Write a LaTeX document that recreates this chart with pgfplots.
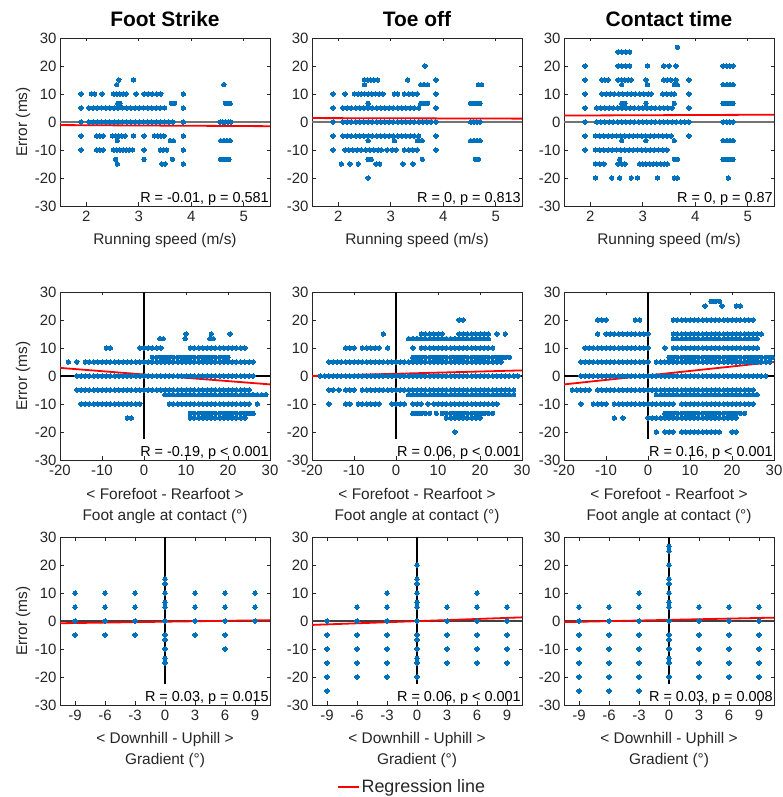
\documentclass[border=0pt]{standalone}
\usepackage{fontspec}
\setmainfont{Liberation Sans}
\usepackage{pgfplots}
\pgfplotsset{compat=1.18}
\definecolor{mblue}{RGB}{0,114,189}
\definecolor{axgray}{RGB}{38,38,38}
\definecolor{txtgray}{RGB}{38,38,38}
\pgfplotsset{
  panel/.style={
    scale only axis, width=210bp, height=168bp, anchor=south west,
    ymin=-30, ymax=30, ytick={-30,-20,-10,0,10,20,30},
    axis line style={draw=axgray, line width=0.8bp},
    every tick/.style={draw=axgray, line width=0.6bp},
    major tick length=3.5bp,
    tick align=inside,
    tick label style={font=\fontsize{15}{18}\selectfont, text=txtgray},
    xticklabel style={yshift=-2bp},
    /pgf/number format/assume math mode=true,
    title style={font=\bfseries\fontsize{21}{24}\selectfont, at={(axis description cs:0.5,1.075)}, anchor=center},
    xlabel style={font=\fontsize{15.5}{21}\selectfont, text=txtgray, align=center},
    ylabel style={font=\fontsize{15.5}{21}\selectfont, text=txtgray},
  },
  row1/.style={xmin=1.5, xmax=5.5, xtick={2,3,4,5}, xlabel={Running speed (m/s)},
    xlabel style={at={(axis description cs:0.5,-0.205)}, anchor=center}},
  row2/.style={xmin=-20, xmax=30, xtick={-20,-10,0,10,20,30},
    xlabel={< Forefoot - Rearfoot >\\Foot angle at contact (°)},
    xlabel style={at={(axis description cs:0.5,-0.272)}, anchor=center}},
  row3/.style={xmin=-10.5, xmax=10.5, xtick={-9,-6,-3,0,3,6,9},
    xlabel={< Downhill - Uphill >\\Gradient (°)},
    xlabel style={at={(axis description cs:0.5,-0.266)}, anchor=center}},
  ylab/.style={ylabel={Error (ms)}, ylabel style={at={(axis description cs:-0.176,0.5)}, anchor=center}},
  dots/.style={only marks, mark=*, mark size=2.2bp, forget plot, color=mblue, mark options={draw=mblue, fill=mblue, line width=0pt}},
  reg/.style={red, line width=1.8bp, no marks, forget plot},
  z1/.style={black!55, line width=2.6bp, no marks, forget plot},
  z2/.style={black, line width=1.2bp, no marks, forget plot},
  z3/.style={black!75, line width=2bp, no marks, forget plot},
}
\newcommand{\ann}[1]{\node[anchor=base east, font=\fontsize{14.5}{17}\selectfont, text=black, inner sep=0pt] at (rel axis cs:0.995,0.02) {#1};}
\begin{document}
\begin{tikzpicture}[x=1bp,y=1bp]
\useasboundingbox (0,0) rectangle (783,797);
% ---------------- Row 1 ----------------
\begin{axis}[panel,row1,ylab,at={(60bp,591bp)},title={Foot Strike}]
\addplot[dots] coordinates {(2.62,15)(2.9,15)(2.58,13.33)(4.62,13.33)
(1.9,10)(2.1,10)(2.16,10)(2.3,10)(2.52,10)(2.58,10)(2.64,10)(2.7,10)(2.76,10)(2.95,10)(3.1,10)(3.18,10)(3.26,10)(3.34,10)(3.42,10)(3.85,10)
(2.6,6.67)(2.64,6.67)(3.62,6.67)(3.68,6.67)(4.65,6.67)(4.7,6.67)(4.74,6.67)
(1.9,5)(2.05,5)(2.13,5)(2.21,5)(2.29,5)(2.37,5)(2.45,5)(2.53,5)(2.61,5)(2.69,5)(2.77,5)(2.85,5)(2.93,5)(3.01,5)(3.09,5)(3.17,5)(3.25,5)(3.33,5)(3.41,5)(3.49,5)(3.85,5)
(1.9,0)(2.05,0)(2.13,0)(2.21,0)(2.29,0)(2.37,0)(2.45,0)(2.53,0)(2.61,0)(2.69,0)(2.77,0)(2.85,0)(2.93,0)(3.01,0)(3.09,0)(3.17,0)(3.25,0)(3.33,0)(3.41,0)(3.49,0)(3.57,0)(3.65,0)(3.85,0)(4.55,0)(4.6,0)(4.65,0)(4.7,0)(4.75,0)
(1.9,-5)(2.2,-5)(2.26,-5)(2.32,-5)(2.5,-5)(2.56,-5)(2.62,-5)(2.68,-5)(2.74,-5)(2.9,-5)(3.1,-5)(3.3,-5)(3.36,-5)(3.42,-5)(3.48,-5)(3.85,-5)
(2.59,-6.67)(3.6,-6.67)(3.66,-6.67)(4.56,-6.67)(4.62,-6.67)(4.68,-6.67)(4.74,-6.67)
(1.9,-10)(2.2,-10)(2.26,-10)(2.32,-10)(2.52,-10)(2.58,-10)(2.64,-10)(2.7,-10)(2.76,-10)(2.82,-10)(2.88,-10)(3.1,-10)(3.41,-10)(3.47,-10)(3.53,-10)(3.85,-10)
(2.56,-13.33)(3.1,-13.33)(3.64,-13.33)(4.56,-13.33)(4.62,-13.33)(4.68,-13.33)(4.72,-13.33)
(2.59,-15)(3.44,-15)(3.5,-15)(3.85,-15)};
\addplot[z1] coordinates {(1.5,0)(5.5,0)};
\addplot[reg] coordinates {(1.5,-1.1)(5.5,-1.5)};
\ann{R = -0.01, p = 0.581}
\end{axis}
\begin{axis}[panel,row1,at={(312bp,591bp)},title={Toe off}]
\addplot[dots] coordinates {(3.65,20)
(2.5,15)(2.56,15)(2.62,15)(2.68,15)(2.75,15)(3.32,15)(3.86,15)
(2.5,13.33)(3.57,13.33)(3.63,13.33)(3.7,13.33)(4.67,13.33)(4.73,13.33)
(1.9,10)(2.13,10)(2.31,10)(2.38,10)(2.44,10)(2.5,10)(2.57,10)(2.64,10)(2.71,10)(2.78,10)(2.85,10)(3.07,10)(3.13,10)(3.26,10)(3.34,10)(3.42,10)(3.5,10)(3.86,10)
(2.57,6.67)(3.57,6.67)(3.63,6.67)(3.7,6.67)(4.52,6.67)(4.58,6.67)(4.64,6.67)(4.7,6.67)
(1.9,5)(2.09,5)(2.17,5)(2.25,5)(2.33,5)(2.41,5)(2.49,5)(2.57,5)(2.65,5)(2.73,5)(2.81,5)(2.89,5)(2.97,5)(3.05,5)(3.13,5)(3.21,5)(3.29,5)(3.37,5)(3.45,5)(3.53,5)(3.86,5)
(1.9,0)(2.09,0)(2.17,0)(2.25,0)(2.33,0)(2.41,0)(2.49,0)(2.57,0)(2.65,0)(2.73,0)(2.81,0)(2.89,0)(2.97,0)(3.05,0)(3.13,0)(3.21,0)(3.29,0)(3.37,0)(3.45,0)(3.53,0)(3.61,0)(3.69,0)(3.77,0)(3.86,0)(4.52,0)(4.58,0)(4.64,0)(4.7,0)
(1.9,-5)(2.09,-5)(2.17,-5)(2.25,-5)(2.33,-5)(2.41,-5)(2.49,-5)(2.57,-5)(2.65,-5)(2.73,-5)(2.81,-5)(2.89,-5)(2.97,-5)(3.05,-5)(3.13,-5)(3.21,-5)(3.29,-5)(3.37,-5)(3.45,-5)(3.53,-5)(3.86,-5)
(2.57,-6.67)(3.07,-6.67)(3.51,-6.67)(3.6,-6.67)(4.52,-6.67)(4.58,-6.67)(4.64,-6.67)(4.7,-6.67)
(1.9,-10)(2.13,-10)(2.2,-10)(2.28,-10)(2.36,-10)(2.44,-10)(2.52,-10)(2.6,-10)(2.68,-10)(2.76,-10)(2.82,-10)(2.93,-10)(3.03,-10)(3.1,-10)(3.26,-10)(3.34,-10)(3.42,-10)(3.5,-10)(3.86,-10)
(2.57,-13.33)(2.63,-13.33)(3.6,-13.33)(4.61,-13.33)(4.67,-13.33)
(2.06,-15)(2.22,-15)(2.38,-15)(2.72,-15)(2.79,-15)(3.23,-15)(3.42,-15)
(2.57,-20)};
\addplot[z1] coordinates {(1.5,0)(5.5,0)};
\addplot[reg] coordinates {(1.5,1.4)(5.5,1.2)};
\ann{R = 0, p = 0.813}
\end{axis}
\begin{axis}[panel,row1,at={(564bp,591bp)},title={Contact time}]
\addplot[dots] coordinates {(3.66,26.67)
(2.53,25)(2.6,25)(2.68,25)(2.75,25)
(1.9,20)(2.53,20)(2.6,20)(2.68,20)(2.75,20)(3.09,20)(3.4,20)(3.5,20)(3.63,20)(4.53,20)(4.6,20)(4.66,20)(4.72,20)
(1.9,15)(2.22,15)(2.28,15)(2.34,15)(2.53,15)(2.6,15)(2.66,15)(2.72,15)(2.78,15)(3.06,15)(3.4,15)(3.47,15)(3.53,15)(3.63,15)(3.88,15)
(2.6,13.33)(3.09,13.33)(3.6,13.33)(3.66,13.33)(4.53,13.33)(4.6,13.33)(4.66,13.33)(4.72,13.33)
(1.9,10)(2.22,10)(2.3,10)(2.38,10)(2.46,10)(2.54,10)(2.62,10)(2.7,10)(2.78,10)(2.86,10)(2.94,10)(3.02,10)(3.1,10)(3.16,10)(3.38,10)(3.46,10)(3.54,10)(3.6,10)(3.88,10)
(2.6,6.67)(2.66,6.67)(3.06,6.67)(3.6,6.67)(4.53,6.67)(4.6,6.67)(4.66,6.67)(4.72,6.67)
(1.9,5)(2.12,5)(2.2,5)(2.28,5)(2.36,5)(2.44,5)(2.52,5)(2.6,5)(2.68,5)(2.76,5)(2.84,5)(2.92,5)(3,5)(3.08,5)(3.16,5)(3.24,5)(3.32,5)(3.4,5)(3.48,5)(3.56,5)(3.88,5)
(1.9,0)(2.12,0)(2.2,0)(2.28,0)(2.36,0)(2.44,0)(2.52,0)(2.6,0)(2.68,0)(2.76,0)(2.84,0)(2.92,0)(3,0)(3.08,0)(3.16,0)(3.24,0)(3.32,0)(3.4,0)(3.48,0)(3.56,0)(3.64,0)(3.72,0)(3.8,0)(3.88,0)(4.53,0)(4.6,0)(4.66,0)(4.72,0)
(1.9,-5)(2.1,-5)(2.18,-5)(2.26,-5)(2.34,-5)(2.42,-5)(2.5,-5)(2.58,-5)(2.66,-5)(2.74,-5)(2.82,-5)(2.9,-5)(2.98,-5)(3.06,-5)(3.14,-5)(3.22,-5)(3.3,-5)(3.38,-5)(3.46,-5)(3.54,-5)(3.88,-5)
(2.6,-6.67)(3.06,-6.67)(3.6,-6.67)(4.53,-6.67)(4.6,-6.67)(4.66,-6.67)(4.72,-6.67)
(1.9,-10)(2.1,-10)(2.18,-10)(2.26,-10)(2.34,-10)(2.42,-10)(2.5,-10)(2.58,-10)(2.66,-10)(2.74,-10)(2.82,-10)(2.9,-10)(2.98,-10)(3.06,-10)(3.14,-10)(3.22,-10)(3.3,-10)(3.38,-10)(3.46,-10)
(2.56,-13.33)(3.6,-13.33)(3.66,-13.33)(4.53,-13.33)(4.6,-13.33)(4.66,-13.33)(4.72,-13.33)
(2.1,-15)(2.18,-15)(2.26,-15)(2.53,-15)(2.6,-15)(2.66,-15)(2.94,-15)(3,-15)(3.06,-15)(3.13,-15)(3.2,-15)(3.27,-15)(3.34,-15)(3.41,-15)(3.47,-15)
(2.1,-20)(2.41,-20)(2.56,-20)(2.78,-20)(2.9,-20)(3.28,-20)(3.6,-20)(3.66,-20)(4.63,-20)};
\addplot[z1] coordinates {(1.5,0)(5.5,0)};
\addplot[reg] coordinates {(1.5,2.3)(5.5,2.6)};
\ann{R = 0, p = 0.87}
\end{axis}
% ---------------- Row 2 ----------------
\begin{axis}[panel,row2,ylab,at={(60bp,337bp)}]
\addplot[dots] coordinates {(10,15)(16,15)(20.5,15)
(3.8,13.33)(4.6,13.33)(9.8,13.33)(15.7,13.33)(16.5,13.33)
(-9,10)(-8,10)(-1,10)(0,10)(1,10)(2,10)(3,10)(4,10)(11,10)(12,10)(13,10)(14,10)(15,10)(16,10)(17,10)(18,10)(19,10)(20,10)(21,10)(22,10)(23,10)(24,10)
(2,6.67)(3,6.67)(4,6.67)(5,6.67)(6,6.67)(7,6.67)(8,6.67)(9,6.67)(10,6.67)(11,6.67)(12,6.67)(13,6.67)(14,6.67)(15,6.67)(16,6.67)(17,6.67)(18,6.67)(19,6.67)(20,6.67)
(-18,5)(-16,5)(-14,5)(-13,5)(-12,5)(-11,5)(-10,5)(-9,5)(-8,5)(-7,5)(-6,5)(-5,5)(-4,5)(-3,5)(-2,5)(-1,5)(0,5)(1,5)(2,5)(3,5)(4,5)(5,5)(6,5)(7,5)(8,5)(9,5)(10,5)(11,5)(12,5)(13,5)(14,5)(15,5)(16,5)(17,5)(18,5)(19,5)(20,5)(21,5)(22,5)(23,5)(24,5)(25,5)(26,5)
(-16,0)(-15,0)(-14,0)(-13,0)(-12,0)(-11,0)(-10,0)(-9,0)(-8,0)(-7,0)(-6,0)(-5,0)(-4,0)(-3,0)(-2,0)(-1,0)(0,0)(1,0)(2,0)(3,0)(4,0)(5,0)(6,0)(7,0)(8,0)(9,0)(10,0)(11,0)(12,0)(13,0)(14,0)(15,0)(16,0)(17,0)(18,0)(19,0)(20,0)(21,0)(22,0)(23,0)(24,0)(25,0)(26,0)
(-16,-5)(-15,-5)(-14,-5)(-13,-5)(-12,-5)(-11,-5)(-10,-5)(-9,-5)(-8,-5)(-7,-5)(-6,-5)(-5,-5)(-4,-5)(-3,-5)(-2,-5)(-1,-5)(0,-5)(1,-5)(2,-5)(3,-5)(4,-5)(5,-5)(6,-5)(7,-5)(8,-5)(9,-5)(10,-5)(11,-5)(12,-5)(13,-5)(14,-5)(15,-5)(16,-5)(17,-5)(18,-5)(19,-5)(20,-5)(21,-5)(22,-5)(23,-5)(24,-5)(25,-5)
(5,-6.67)(6,-6.67)(7,-6.67)(8,-6.67)(9,-6.67)(10,-6.67)(11,-6.67)(12,-6.67)(13,-6.67)(14,-6.67)(15,-6.67)(16,-6.67)(17,-6.67)(18,-6.67)(19,-6.67)(20,-6.67)(21,-6.67)(22,-6.67)(23,-6.67)(24,-6.67)(25,-6.67)(26,-6.67)(27,-6.67)(28,-6.67)(29,-6.67)
(-15,-10)(-14,-10)(-13,-10)(-12,-10)(-11,-10)(-10,-10)(-9,-10)(-8,-10)(-7,-10)(-6,-10)(-5,-10)(-4,-10)(-3,-10)(-2,-10)(-1,-10)(6,-10)(7,-10)(8,-10)(9,-10)(10,-10)(11,-10)(12,-10)(13,-10)(14,-10)(15,-10)(16,-10)(17,-10)(18,-10)(19,-10)(20,-10)(21,-10)(22,-10)(23,-10)(24,-10)(25,-10)(27,-10)
(11,-13.33)(12,-13.33)(13,-13.33)(14,-13.33)(15,-13.33)(16,-13.33)(17,-13.33)(18,-13.33)(19,-13.33)(20,-13.33)(21,-13.33)(22,-13.33)(23,-13.33)(24,-13.33)(25,-13.33)(26,-13.33)
(-4,-15)(-3,-15)(11,-15)(12,-15)(13,-15)(14,-15)(15,-15)(16,-15)(17,-15)(18,-15)(19,-15)(20,-15)(21,-15)(22,-15)(23,-15)(24,-15)};
\addplot[z2] coordinates {(-20,0)(30,0)};
\addplot[z2] coordinates {(0,-22.5)(0,30)};
\addplot[reg] coordinates {(-20,2.9)(30,-3.0)};
\ann{R = -0.19, p < 0.001}
\end{axis}
\begin{axis}[panel,row2,at={(312bp,337bp)}]
\addplot[dots] coordinates {(15,20)(16,20)
(-3,15)(6,15)(7,15)(8,15)(9,15)(10,15)(11,15)(15,15)(16,15)(17,15)(18,15)(19,15)(20,15)(21,15)(22,15)(24,15)(26,15)
(3,13.33)(4,13.33)(5,13.33)(6,13.33)(7,13.33)(8,13.33)(9,13.33)(10,13.33)(11,13.33)(12,13.33)(13,13.33)(14,13.33)(15,13.33)(16,13.33)(17,13.33)(18,13.33)(19,13.33)(20,13.33)(21,13.33)(22,13.33)
(-12,10)(-11,10)(-10,10)(-8,10)(-7,10)(-6,10)(-5,10)(-4,10)(-2,10)(4,10)(6,10)(7,10)(8,10)(9,10)(10,10)(11,10)(12,10)(13,10)(14,10)(15,10)(16,10)(17,10)(18,10)(19,10)(20,10)(21,10)(22,10)(23,10)
(4,6.67)(5,6.67)(6,6.67)(7,6.67)(8,6.67)(9,6.67)(10,6.67)(11,6.67)(12,6.67)(13,6.67)(14,6.67)(15,6.67)(16,6.67)(17,6.67)(18,6.67)(19,6.67)(20,6.67)(21,6.67)(22,6.67)(23,6.67)(24,6.67)(25,6.67)(26,6.67)(27,6.67)
(-16,5)(-15,5)(-14,5)(-13,5)(-12,5)(-11,5)(-10,5)(-9,5)(-8,5)(-7,5)(-6,5)(-5,5)(-4,5)(-3,5)(-2,5)(-1,5)(0,5)(1,5)(2,5)(3,5)(4,5)(5,5)(6,5)(7,5)(8,5)(9,5)(10,5)(11,5)(12,5)(13,5)(14,5)(15,5)(16,5)(17,5)(18,5)(19,5)(20,5)(21,5)(22,5)(23,5)(24,5)(25,5)
(-18,0)(-17,0)(-16,0)(-15,0)(-14,0)(-13,0)(-12,0)(-11,0)(-10,0)(-9,0)(-8,0)(-7,0)(-6,0)(-5,0)(-4,0)(-3,0)(-2,0)(-1,0)(0,0)(1,0)(2,0)(3,0)(4,0)(5,0)(6,0)(7,0)(8,0)(9,0)(10,0)(11,0)(12,0)(13,0)(14,0)(15,0)(16,0)(17,0)(18,0)(19,0)(20,0)(21,0)(22,0)(23,0)(24,0)(25,0)(26,0)(27,0)(28,0)(29,0)
(-16,-5)(-15,-5)(-13.6,-5)(-12,-5)(-11,-5)(-10,-5)(-8,-5)(-7,-5)(-6,-5)(-5,-5)(-4,-5)(-3,-5)(-2,-5)(-1,-5)(0,-5)(1,-5)(2,-5)(3,-5)(4,-5)(5,-5)(6,-5)(7,-5)(8,-5)(9,-5)(10,-5)(11,-5)(12,-5)(13,-5)(14,-5)(15,-5)(16,-5)(17,-5)(18,-5)(19,-5)(20,-5)(21,-5)(22,-5)(23,-5)(24,-5)(25,-5)(26,-5)(27,-5)(28,-5)
(3,-6.67)(4,-6.67)(5,-6.67)(6,-6.67)(7,-6.67)(8,-6.67)(9,-6.67)(10,-6.67)(11,-6.67)(12,-6.67)(13,-6.67)(14,-6.67)(15,-6.67)(16,-6.67)(17,-6.67)(18,-6.67)(19,-6.67)(20,-6.67)(21,-6.67)(22,-6.67)(23,-6.67)(24,-6.67)(25,-6.67)(26,-6.67)(27,-6.67)(28,-6.67)
(-16,-10)(-12,-10)(-11,-10)(-9,-10)(-8,-10)(-7,-10)(-6,-10)(-5,-10)(-4,-10)(-1,-10)(0,-10)(1,-10)(2,-10)(4,-10)(5,-10)(6,-10)(7.6,-10)(9,-10)(10,-10)(11,-10)(12,-10)(13,-10)(14,-10)(15,-10)(16,-10)(17,-10)(18,-10)(19,-10)(20,-10)(21,-10)(22,-10)(23,-10)(24,-10)
(4,-13.33)(5,-13.33)(6,-13.33)(7,-13.33)(8,-13.33)(9.6,-13.33)(11,-13.33)(12,-13.33)(13,-13.33)(14,-13.33)(15,-13.33)(16,-13.33)(17,-13.33)(18,-13.33)(19,-13.33)(20,-13.33)(21,-13.33)(22,-13.33)(23,-13.33)
(12,-15)(13,-15)(14,-15)(15,-15)(16,-15)(17,-15)(18,-15)(19,-15)(20,-15)
(14,-20)};
\addplot[z2] coordinates {(-20,0)(30,0)};
\addplot[z2] coordinates {(0,-22.5)(0,30)};
\addplot[reg] coordinates {(-20,0.0)(30,2.0)};
\ann{R = 0.06, p < 0.001}
\end{axis}
\begin{axis}[panel,row2,at={(564bp,337bp)}]
\addplot[dots] coordinates {(15,26.67)(16,26.67)(17,26.67)
(13.6,25)(17.6,25)(21,25)(22,25)
(-12,20)(-11,20)(-10,20)(-3,20)(-2,20)(6,20)(7,20)(8,20)(9,20)(10,20)(11,20)(12,20)(13,20)(14,20)(15,20)(16,20)(17,20)(18,20)(19,20)(20,20)(21,20)(22,20)(23,20)(24,20)(25,20)
(-12,15)(-10,15)(-9,15)(-8,15)(-7,15)(-6,15)(-5,15)(-4,15)(-3,15)(-2,15)(-1,15)(0,15)(6,15)(7,15)(8,15)(9,15)(10,15)(11,15)(12,15)(13,15)(14,15)(15,15)(16,15)(17,15)(18,15)(19,15)(20,15)(21,15)(22,15)(23,15)(24,15)(25,15)(26,15)(27,15)
(6,13.33)(7,13.33)(8,13.33)(9,13.33)(10,13.33)(11,13.33)(12,13.33)(13,13.33)(14,13.33)(15,13.33)(16,13.33)(17,13.33)(18,13.33)(19,13.33)(20,13.33)(21,13.33)(22,13.33)(23,13.33)(24,13.33)(25,13.33)(26,13.33)
(-15,10)(-14,10)(-13,10)(-12,10)(-11,10)(-10,10)(-9,10)(-8,10)(-7,10)(-6,10)(-5,10)(-4,10)(-3,10)(-2,10)(-1,10)(0,10)(4,10)(6,10)(7,10)(8,10)(9,10)(10,10)(11,10)(12,10)(13,10)(14,10)(15,10)(16,10)(17,10)(18,10)(19,10)(20,10)(21,10)(22,10)(23,10)(24,10)(25,10)(26,10)
(5,6.67)(6,6.67)(7,6.67)(8,6.67)(9,6.67)(10,6.67)(11,6.67)(12,6.67)(13,6.67)(14,6.67)(15,6.67)(16,6.67)(17,6.67)(18,6.67)(19,6.67)(20,6.67)(21,6.67)(22,6.67)(23,6.67)(24,6.67)(25,6.67)(26,6.67)(27,6.67)(28,6.67)(29,6.67)(29.6,6.67)
(-16,5)(-15,5)(-14,5)(-13,5)(-12,5)(-11,5)(-10,5)(-9,5)(-8,5)(-7,5)(-6,5)(-5,5)(-4,5)(-3,5)(-2,5)(-1,5)(0,5)(2,5)(3,5)(4,5)(5,5)(6,5)(7,5)(8,5)(9,5)(10,5)(11,5)(12,5)(13,5)(14,5)(15,5)(16,5)(17,5)(18,5)(19,5)(20,5)(21,5)(22,5)(23,5)(24,5)(25,5)(26,5)(27,5)(28,5)(29,5)
(-16,0)(-15,0)(-14,0)(-13,0)(-12,0)(-11,0)(-10,0)(-9,0)(-8,0)(-7,0)(-6,0)(-5,0)(-4,0)(-3,0)(-2,0)(-1,0)(0,0)(1,0)(2,0)(3,0)(4,0)(5,0)(6,0)(7,0)(8,0)(9,0)(10,0)(11,0)(12,0)(13,0)(14,0)(15,0)(16,0)(17,0)(18,0)(19,0)(20,0)(21,0)(22,0)(23,0)(24,0)(25,0)(26,0)(27,0)(28,0)
(-18,-5)(-17,-5)(-16,-5)(-15,-5)(-14,-5)(-12,-5)(-11,-5)(-10,-5)(-9,-5)(-8,-5)(-7,-5)(-6,-5)(-5,-5)(-4,-5)(-3,-5)(-2,-5)(-1,-5)(0,-5)(1,-5)(2,-5)(3,-5)(4,-5)(5,-5)(6,-5)(7,-5)(8,-5)(9,-5)(10,-5)(11,-5)(12,-5)(13,-5)(14,-5)(15,-5)(16,-5)(17,-5)(18,-5)(19,-5)(20,-5)(21,-5)(22,-5)(23,-5)(24,-5)(25,-5)
(2,-6.67)(3,-6.67)(4,-6.67)(5,-6.67)(6,-6.67)(7,-6.67)(8,-6.67)(9,-6.67)(10,-6.67)(11,-6.67)(12,-6.67)(13,-6.67)(14,-6.67)(15,-6.67)(16,-6.67)(17,-6.67)(18,-6.67)(19,-6.67)(20,-6.67)(21,-6.67)(22,-6.67)(23,-6.67)(24,-6.67)(25,-6.67)(26,-6.67)
(-16,-10)(-13,-10)(-12,-10)(-11,-10)(-10,-10)(-8,-10)(-7,-10)(-6,-10)(-5,-10)(-4,-10)(-3,-10)(-2,-10)(-1,-10)(0,-10)(1,-10)(2,-10)(3,-10)(4,-10)(5,-10)(6,-10)(8,-10)(9,-10)(10,-10)(11,-10)(12,-10)(13,-10)(14,-10)(15,-10)(16,-10)(17,-10)(18,-10)(19,-10)(20,-10)(21,-10)(22,-10)(23,-10)(24,-10)(25,-10)
(4,-13.33)(5,-13.33)(6,-13.33)(7,-13.33)(8,-13.33)(9,-13.33)(10,-13.33)(11,-13.33)(12,-13.33)(13,-13.33)(14,-13.33)(15,-13.33)(16,-13.33)(17,-13.33)(18,-13.33)(19,-13.33)(20,-13.33)(21,-13.33)(22,-13.33)(23,-13.33)
(-8,-15)(-6,-15)(0,-15)(1,-15)(2,-15)(3,-15)(4,-15)(5,-15)(6,-15)(7,-15)(8,-15)(9,-15)(10,-15)(11,-15)(12,-15)(13,-15)(14,-15)(15,-15)(16,-15)(17,-15)(18,-15)(19,-15)(20,-15)(21,-15)
(2,-20)(4,-20)(5,-20)(6,-20)(8,-20)(9,-20)(10,-20)(11,-20)(12,-20)(13,-20)(14,-20)(15,-20)(16,-20)(17,-20)(20,-20)(21,-20)};
\addplot[z2] coordinates {(-20,0)(30,0)};
\addplot[z2] coordinates {(0,-22.5)(0,30)};
\addplot[reg] coordinates {(-20,-3.0)(30,5.0)};
\ann{R = 0.16, p < 0.001}
\end{axis}
% ---------------- Row 3 ----------------
\begin{axis}[panel,row3,ylab,at={(60bp,92bp)}]
\addplot[dots] coordinates {(-9,10)(-9,5)(-9,0)(-9,-5)(-6,10)(-6,5)(-6,0)(-6,-5)(-3,10)(-3,5)(-3,0)(-3,-5)
(0,15)(0,13.33)(0,10)(0,6.67)(0,5)(0,0)(0,-5)(0,-6.67)(0,-10)(0,-13.33)(0,-15)
(3,10)(3,5)(3,0)(3,-5)(6,10)(6,5)(6,0)(6,-5)(6,-10)(9,10)(9,5)(9,0)};
\addplot[z3] coordinates {(-10.5,0)(10.5,0)};
\addplot[z2] coordinates {(0,-22.5)(0,30)};
\addplot[reg] coordinates {(-10.5,-0.8)(10.5,0.3)};
\ann{R = 0.03, p = 0.015}
\end{axis}
\begin{axis}[panel,row3,at={(312bp,92bp)},
  legend style={draw=none, fill=none, at={(axis description cs:0.476,-0.488)}, anchor=center, font=\fontsize{18}{20}\selectfont, text=txtgray},
  legend image code/.code={\draw[red, line width=1.8bp] (0bp,0bp) -- (21bp,0bp);}]
\addlegendimage{red}
\addlegendentry{Regression line}
\addplot[dots] coordinates {(-9,0)(-9,-5)(-9,-10)(-9,-15)(-9,-20)(-9,-25)
(-6,5)(-6,0)(-6,-5)(-6,-10)(-6,-15)(-6,-20)
(-3,10)(-3,5)(-3,0)(-3,-5)(-3,-10)(-3,-15)(-3,-20)
(0,20)(0,15)(0,13.33)(0,10)(0,6.67)(0,5)(0,0)(0,-5)(0,-6.67)(0,-10)(0,-13.33)(0,-15)(0,-20)
(3,5)(3,0)(3,-5)(3,-10)(3,-15)
(6,10)(6,5)(6,0)(6,-5)(6,-10)(6,-15)
(9,5)(9,0)(9,-5)(9,-10)(9,-15)};
\addplot[z3] coordinates {(-10.5,0)(10.5,0)};
\addplot[z2] coordinates {(0,-22.5)(0,30)};
\addplot[reg] coordinates {(-10.5,-1.4)(10.5,1.3)};
\ann{R = 0.06, p < 0.001}
\end{axis}
\begin{axis}[panel,row3,at={(564bp,92bp)}]
\addplot[dots] coordinates {(-9,5)(-9,0)(-9,-5)(-9,-10)(-9,-15)(-9,-20)(-9,-25)
(-6,5)(-6,0)(-6,-5)(-6,-10)(-6,-15)(-6,-20)(-6,-25)
(-3,10)(-3,5)(-3,0)(-3,-5)(-3,-10)(-3,-15)(-3,-20)(-3,-25)
(0,26.67)(0,25)(0,20)(0,15)(0,13.33)(0,10)(0,6.67)(0,5)(0,0)(0,-5)(0,-6.67)(0,-10)(0,-13.33)(0,-15)(0,-20)
(3,5)(3,0)(3,-5)(3,-10)(3,-15)(3,-20)
(6,5)(6,0)(6,-5)(6,-10)(6,-15)(6,-20)
(9,5)(9,0)(9,-5)(9,-10)(9,-15)(9,-20)};
\addplot[z3] coordinates {(-10.5,0)(10.5,0)};
\addplot[z2] coordinates {(0,-22.5)(0,30)};
\addplot[reg] coordinates {(-10.5,-0.4)(10.5,1.2)};
\ann{R = 0.03, p = 0.008}
\end{axis}
\end{tikzpicture}
\end{document}
